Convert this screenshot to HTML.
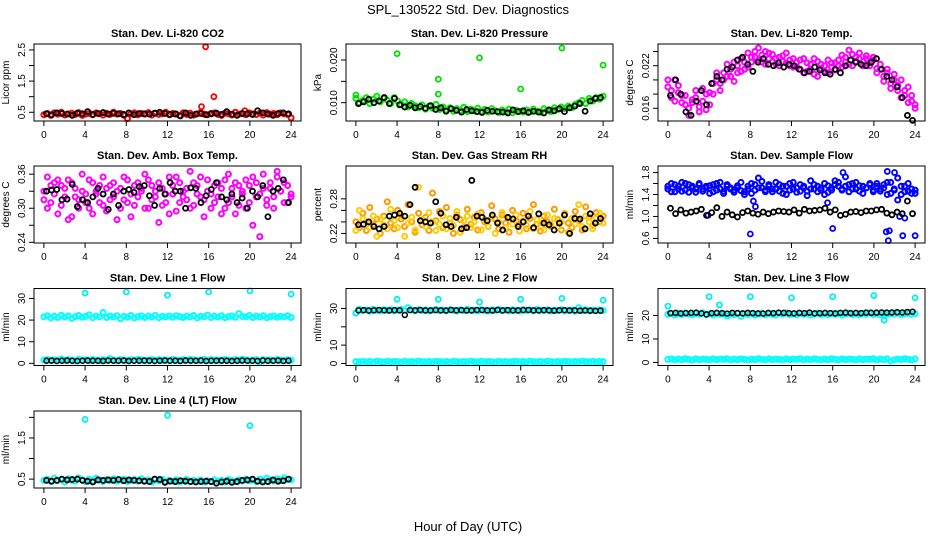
<!DOCTYPE html>
<html><head><meta charset="utf-8">
<style>
html,body{margin:0;padding:0;background:#fff;}
svg{display:block;font-family:"Liberation Sans",sans-serif;}
</style></head>
<body>
<svg id="chart" width="936" height="540" viewBox="0 0 936 540" xmlns="http://www.w3.org/2000/svg">
<text x="468" y="14" text-anchor="middle" font-size="13">SPL_130522  Std. Dev. Diagnostics</text>
<text x="468" y="531" text-anchor="middle" font-size="13">Hour of Day (UTC)</text>
</svg>
<script>
// ---- data ----
const xTicks = [0,4,8,12,16,20,24];
const panelTitles = ["Stan. Dev. Li-820 CO2","Stan. Dev. Li-820 Pressure","Stan. Dev. Li-820 Temp.","Stan. Dev. Amb. Box Temp.","Stan. Dev. Gas Stream RH","Stan. Dev. Sample Flow","Stan. Dev. Line 1 Flow","Stan. Dev. Line 2 Flow","Stan. Dev. Line 3 Flow","Stan. Dev. Line 4 (LT) Flow"];
const yTitles = ["Licor ppm","kPa","degrees C","degrees C","percent","ml/min","ml/min","ml/min","ml/min","ml/min"];
const yLo = [0.22,0.00571,0.01421,0.2388,0.2034,0.5165,-1,-1.1,-1.3,0.284];
const yHi = [2.69,0.02375,0.02506,0.3744,0.337,1.919,34.6,40.9,31.5,2.155];
const yTickVals = [[0.5,1,1.5,2,2.5],[0.010,0.015,0.020],[0.016,0.018,0.020,0.022,0.024],[0.24,0.27,0.30,0.33,0.36],[0.22,0.24,0.26,0.28],[0.6,0.8,1.0,1.2,1.4,1.6,1.8],[0,10,20,30],[0,10,20,30],[0,10,20],[0.5,1.0,1.5,2.0]];
const yTickLabels = [["0.5","","1.5","","2.5"],["0.010","","0.020"],["0.016","","","0.022",""],["0.24","","0.30","","0.36"],["0.22","","","0.28"],["0.6","","1.0","","1.4","","1.8"],["0","10","20","30"],["0","10","","30"],["0","10","20"],["0.5","","1.5",""]];

const co2Red = [0.42,0.46,0.40,0.48,0.44,0.50,0.41,0.45,0.47,0.43,0.49,0.40,0.44,0.46,0.42,0.48,0.45,0.41,0.47,0.43,0.50,0.44,0.46,0.40,0.30,0.45,0.48,0.42,0.46,0.44,0.49,0.41,0.47,0.43,0.45,0.50,0.42,0.46,0.44,0.40,0.48,0.43,0.47,0.41,0.45,0.49,0.44,0.42,0.46,0.48,0.43,0.40,0.47,0.45,0.41,0.50,0.44,0.46,0.42,0.48,0.45,0.43,0.47,0.41,0.49,0.44,0.46,0.42,0.48,0.45,0.43,0.32];
const co2Black = [0.45,0.42,0.48,0.46,0.44,0.40,0.47,0.45,0.52,0.43,0.46,0.49,0.44,0.47,0.45,0.43,0.48,0.42,0.46,0.45,0.44,0.47,0.50,0.46,0.43,0.45,0.38,0.48,0.40,0.44,0.46,0.42,0.45,0.47,0.43,0.52,0.44,0.40,0.46,0.45,0.43,0.55,0.48,0.44,0.40,0.46,0.48,0.45];
const co2OutHours = [15.7,16.5,15.3,19.5];
const co2OutVals = [2.6,1.0,0.68,0.55];

const presGreen = [0.0110,0.0100,0.0105,0.0112,0.0098,0.0108,0.0115,0.0102,0.0110,0.0106,0.0098,0.0112,0.0104,0.0096,0.0102,0.0090,0.0098,0.0093,0.0088,0.0095,0.0085,0.0092,0.0087,0.0096,0.0084,0.0090,0.0083,0.0088,0.0080,0.0086,0.0082,0.0089,0.0079,0.0085,0.0081,0.0087,0.0080,0.0084,0.0078,0.0086,0.0081,0.0077,0.0083,0.0079,0.0085,0.0076,0.0082,0.0080,0.0078,0.0083,0.0079,0.0085,0.0080,0.0078,0.0086,0.0082,0.0079,0.0088,0.0084,0.0090,0.0086,0.0092,0.0088,0.0096,0.0100,0.0105,0.0098,0.0110,0.0104,0.0112,0.0108,0.0115];
const presBlack = [0.0098,0.0102,0.0108,0.0100,0.0104,0.0112,0.0098,0.0110,0.0095,0.0090,0.0094,0.0088,0.0091,0.0087,0.0093,0.0084,0.0088,0.0080,0.0086,0.0082,0.0078,0.0084,0.0081,0.0079,0.0077,0.0082,0.0080,0.0079,0.0078,0.0076,0.0083,0.0079,0.0081,0.0077,0.0080,0.0078,0.0076,0.0083,0.0081,0.0086,0.0079,0.0088,0.0092,0.0098,0.0080,0.0104,0.0110,0.0112];
const presOutHours = [4,8,8,12,16,20,24,0];
const presOutVals = [0.0215,0.0155,0.0120,0.0205,0.0132,0.0228,0.0188,0.0118];

const tempMag1 = [0.0190,0.0175,0.0200,0.0182,0.0168,0.0178,0.0160,0.0172,0.0185,0.0155,0.0170,0.0180,0.0165,0.0195,0.0200,0.0185,0.0210,0.0205,0.0215,0.0198,0.0220,0.0212,0.0225,0.0218,0.0232,0.0240,0.0228,0.0235,0.0222,0.0238,0.0226,0.0230,0.0220,0.0234,0.0224,0.0228,0.0218,0.0225,0.0215,0.0230,0.0212,0.0222,0.0208,0.0226,0.0216,0.0220,0.0210,0.0224,0.0214,0.0228,0.0218,0.0232,0.0222,0.0236,0.0226,0.0230,0.0220,0.0234,0.0224,0.0228,0.0216,0.0222,0.0205,0.0215,0.0195,0.0208,0.0185,0.0200,0.0178,0.0190,0.0170,0.0160];
const tempMag2 = [0.0200,0.0185,0.0170,0.0192,0.0178,0.0165,0.0150,0.0168,0.0175,0.0162,0.0188,0.0158,0.0182,0.0180,0.0210,0.0195,0.0200,0.0222,0.0205,0.0225,0.0210,0.0230,0.0215,0.0238,0.0225,0.0232,0.0245,0.0225,0.0240,0.0230,0.0236,0.0222,0.0232,0.0226,0.0238,0.0220,0.0230,0.0218,0.0228,0.0210,0.0224,0.0215,0.0230,0.0205,0.0222,0.0212,0.0228,0.0218,0.0224,0.0220,0.0235,0.0225,0.0242,0.0220,0.0232,0.0238,0.0226,0.0230,0.0220,0.0232,0.0210,0.0215,0.0198,0.0210,0.0188,0.0200,0.0192,0.0175,0.0185,0.0168,0.0178,0.0165];
const tempBlack = [0.0178,0.0200,0.0180,0.0155,0.0150,0.0170,0.0185,0.0165,0.0195,0.0205,0.0200,0.0215,0.0218,0.0228,0.0232,0.0222,0.0212,0.0225,0.0230,0.0222,0.0220,0.0224,0.0218,0.0222,0.0220,0.0215,0.0210,0.0212,0.0218,0.0214,0.0210,0.0208,0.0215,0.0210,0.0220,0.0228,0.0225,0.0222,0.0220,0.0225,0.0230,0.0215,0.0205,0.0200,0.0190,0.0175,0.0150,0.0143];

const ambMag1 = [0.330,0.355,0.310,0.345,0.290,0.340,0.320,0.350,0.285,0.335,0.315,0.360,0.325,0.300,0.345,0.330,0.310,0.355,0.295,0.340,0.320,0.280,0.335,0.315,0.350,0.325,0.305,0.345,0.330,0.360,0.300,0.340,0.320,0.275,0.335,0.310,0.355,0.325,0.295,0.345,0.330,0.315,0.365,0.305,0.340,0.320,0.285,0.350,0.325,0.310,0.345,0.335,0.300,0.360,0.320,0.290,0.340,0.330,0.350,0.310,0.270,0.345,0.325,0.360,0.315,0.335,0.300,0.355,0.330,0.345,0.310,0.325];
const ambMag2 = [0.315,0.300,0.340,0.325,0.350,0.305,0.335,0.280,0.345,0.320,0.300,0.330,0.310,0.350,0.290,0.325,0.340,0.305,0.335,0.315,0.345,0.330,0.300,0.355,0.310,0.285,0.340,0.320,0.335,0.300,0.350,0.315,0.330,0.345,0.305,0.325,0.290,0.340,0.355,0.310,0.320,0.335,0.300,0.345,0.325,0.355,0.315,0.330,0.300,0.340,0.320,0.290,0.350,0.310,0.335,0.345,0.305,0.325,0.300,0.340,0.355,0.320,0.250,0.335,0.305,0.345,0.320,0.365,0.330,0.310,0.340,0.320];
const ambBlack = [0.330,0.332,0.333,0.315,0.316,0.342,0.303,0.315,0.310,0.320,0.335,0.325,0.298,0.325,0.305,0.330,0.333,0.328,0.338,0.340,0.322,0.305,0.335,0.325,0.345,0.330,0.330,0.300,0.336,0.335,0.310,0.322,0.333,0.345,0.320,0.315,0.325,0.310,0.318,0.300,0.330,0.320,0.340,0.285,0.330,0.335,0.350,0.310];

const rhOrange1 = [0.240,0.230,0.255,0.225,0.265,0.235,0.245,0.220,0.250,0.275,0.238,0.228,0.260,0.245,0.232,0.270,0.240,0.222,0.255,0.235,0.248,0.225,0.290,0.242,0.258,0.230,0.265,0.238,0.220,0.252,0.244,0.230,0.262,0.236,0.248,0.226,0.256,0.240,0.232,0.268,0.245,0.228,0.252,0.238,0.222,0.260,0.242,0.235,0.255,0.228,0.246,0.270,0.236,0.224,0.250,0.240,0.232,0.262,0.244,0.226,0.254,0.238,0.230,0.258,0.242,0.226,0.266,0.248,0.234,0.256,0.240,0.250];
const rhOrange2 = [0.225,0.260,0.245,0.240,0.230,0.250,0.215,0.245,0.235,0.228,0.262,0.242,0.230,0.250,0.215,0.238,0.248,0.226,0.300,0.244,0.232,0.256,0.240,0.225,0.236,0.250,0.228,0.246,0.234,0.258,0.222,0.242,0.250,0.230,0.240,0.254,0.226,0.244,0.232,0.248,0.220,0.240,0.256,0.230,0.246,0.236,0.252,0.224,0.242,0.234,0.258,0.228,0.244,0.238,0.226,0.252,0.236,0.246,0.230,0.240,0.255,0.222,0.246,0.236,0.270,0.232,0.250,0.240,0.228,0.246,0.255,0.238];
const rhBlack = [0.235,0.236,0.240,0.232,0.228,0.232,0.250,0.252,0.255,0.250,0.270,0.300,0.242,0.240,0.238,0.275,0.255,0.235,0.232,0.248,0.228,0.230,0.312,0.250,0.248,0.242,0.252,0.238,0.226,0.248,0.245,0.232,0.240,0.250,0.230,0.254,0.238,0.235,0.226,0.238,0.252,0.220,0.246,0.245,0.228,0.254,0.238,0.246];

const flowBlue1 = [1.50,1.60,1.45,1.55,1.62,1.48,1.58,1.52,1.44,1.60,1.50,1.55,1.42,1.58,1.48,1.62,1.46,1.55,1.50,1.44,1.52,1.47,1.40,1.55,1.60,1.48,1.70,1.52,1.45,1.58,1.50,1.62,1.46,1.55,1.40,1.60,1.50,1.44,1.58,1.52,1.46,1.65,1.50,1.55,1.48,1.60,1.44,1.52,1.65,1.55,1.48,1.72,1.58,1.50,1.62,1.46,1.55,1.52,1.60,1.45,1.55,1.50,1.58,1.40,1.62,1.48,1.30,1.55,1.45,1.60,1.50,1.42];
const flowBlue2 = [1.55,1.45,1.58,1.50,1.46,1.60,1.44,1.55,1.50,1.58,1.46,1.52,1.56,1.45,1.60,1.50,1.42,1.58,1.52,1.48,1.56,1.62,1.45,1.50,1.42,1.58,1.52,1.64,1.48,1.55,1.45,1.50,1.58,1.42,1.55,1.48,1.62,1.52,1.46,1.55,1.38,1.50,1.58,1.45,1.52,1.40,1.56,1.48,1.58,1.62,1.50,1.55,1.45,1.60,1.50,1.56,1.42,1.52,1.58,1.48,1.60,1.46,1.52,1.62,1.42,1.50,1.70,1.40,1.55,1.46,1.42,1.48];
const flowBlack = [1.15,1.05,1.12,1.06,1.08,1.10,1.13,1.02,1.07,1.16,1.00,1.08,1.03,0.99,1.07,1.10,1.06,1.04,1.08,1.05,1.08,1.10,1.09,1.08,1.12,1.06,1.13,1.10,1.11,1.12,1.15,1.08,1.12,1.02,1.04,1.08,1.09,1.07,1.10,1.10,1.12,1.13,1.06,1.03,1.08,1.05,1.28,1.05];
const flowOutHours = [8,8.3,8.5,16,15.5,21.2,21.4,21.5,22.8,24,21.3,22,17,23,22.5,3.9];
const flowOutVals = [0.68,1.28,1.18,0.78,1.25,0.72,0.56,0.74,0.65,0.65,1.82,1.80,1.80,0.97,1.00,1.02];

const l1High = [21.5,22.0,21.0,21.8,21.2,22.2,21.4,21.9,20.8,21.6,22.1,21.3,21.7,22.4,21.1,21.8,21.5,23.5,21.2,21.9,21.4,22.0,20.6,21.7,21.3,22.1,21.0,21.6,21.9,21.2,21.8,21.4,22.2,21.1,21.7,21.5,21.9,21.3,22.0,21.6,21.2,21.8,21.4,22.1,21.0,21.7,21.5,22.3,21.2,21.8,21.4,22.0,21.1,21.6,21.9,21.3,23.0,21.7,21.5,22.1,21.2,21.8,21.4,22.0,21.1,21.6,21.9,21.3,21.7,21.5,22.0,21.2];
const l1Low = [1.5,1.8,1.2,1.6,1.4,2.0,1.3,1.7,1.5,1.1,1.9,1.4,1.6,1.2,1.8,1.5,1.3,1.7,1.4,2.2,1.6,1.2,1.8,1.5,1.3,1.7,1.4,1.9,1.6,1.2,1.5,1.8,1.3,1.7,1.4,1.6,1.2,1.9,1.5,1.3,1.7,1.4,1.8,1.6,1.2,1.5,1.9,1.3,1.7,1.4,1.6,1.2,1.8,1.5,1.3,1.7,1.4,1.9,1.6,1.2,1.5,1.8,0.5,1.7,1.4,1.6,1.2,1.8,1.5,1.3,1.7,1.4];
const l1Black = [1.2,1.3,1.1,1.2,1.3,1.2,1.1,1.2,1.3,1.2,1.2,1.1,1.3,1.2,1.2,1.3,1.1,1.2,1.2,1.3,1.2,1.1,1.2,1.3,1.2,1.2,1.1,1.3,1.2,1.2,1.3,1.1,1.2,1.2,1.3,1.2,1.1,1.2,1.3,1.2,1.2,1.1,1.3,1.2,1.2,1.3,1.1,1.2];
const l1OutHours = [4,8,12,16,20,24];
const l1OutVals = [32.5,33,31.5,33,33.5,32];

const l2High = [27.5,29.5,28.8,29.2,28.5,29.6,29.0,28.7,29.3,28.9,29.4,28.6,29.1,29.5,28.8,30.5,29.2,28.7,29.4,28.9,29.3,28.6,29.0,29.5,28.8,29.2,28.7,29.4,29.0,28.6,29.3,28.9,29.5,28.8,29.1,28.7,29.4,29.0,28.6,29.2,28.9,29.5,28.8,29.1,28.7,29.3,29.0,28.6,29.4,28.9,29.2,28.7,29.5,29.0,28.8,29.3,28.6,29.1,28.9,29.4,28.7,29.0,29.2,28.5,30.5,28.9,29.3,28.7,29.1,28.8,29.2,28.9];
const l2Low = [1.0,0.8,1.2,0.9,1.1,0.7,1.3,1.0,0.8,1.2,0.9,1.1,1.0,0.7,1.2,0.9,1.1,0.8,1.3,1.0,0.9,1.1,0.8,1.2,1.0,0.9,1.1,0.7,1.2,1.0,0.8,1.1,0.9,1.3,1.0,0.8,1.2,0.9,1.1,1.0,0.7,1.2,0.9,1.1,0.8,1.0,1.2,0.9,1.1,0.8,1.3,1.0,0.9,1.1,0.7,1.2,1.0,0.8,1.1,0.9,1.2,1.0,0.8,1.1,0.9,1.3,1.0,0.8,1.2,0.9,1.1,1.0];
const l2Black = [29.0,29.1,28.9,29.0,29.2,29.0,28.9,29.1,29.0,26.5,29.1,29.0,29.2,28.9,29.0,29.1,29.0,28.9,29.2,29.0,29.1,28.9,29.0,29.2,29.1,29.0,28.9,29.2,29.0,29.1,28.9,29.0,29.1,29.2,29.0,28.9,29.1,29.0,28.8,29.0,29.1,28.9,29.0,28.8,28.9,28.8,28.7,28.8];
const l2OutHours = [4,8,12,16,20,24,0];
const l2OutVals = [35,35,33.5,35,35.5,34.5,27.5];

const l3High = [20.5,21.0,20.2,20.8,20.4,21.1,20.6,20.3,20.9,20.5,21.2,20.4,20.7,20.2,20.9,20.5,20.8,19.8,20.6,20.3,21.0,19.6,20.7,20.4,20.9,20.2,20.6,21.0,20.3,20.8,20.5,20.2,20.9,20.6,21.1,20.4,20.7,20.3,20.9,20.5,20.8,20.2,20.6,21.0,20.4,20.7,20.3,20.9,20.5,20.8,20.2,20.6,21.0,20.4,20.7,20.3,20.9,20.5,21.2,20.4,20.7,20.3,20.9,20.5,20.8,20.6,21.0,20.4,20.7,20.9,20.5,20.8];
const l3Low = [1.3,1.5,1.1,1.4,1.2,1.6,1.3,1.0,1.5,1.2,1.4,1.3,1.1,1.5,1.2,1.4,1.3,1.6,1.1,1.4,1.2,1.5,1.3,1.1,1.4,1.2,1.6,1.3,1.1,1.5,1.2,1.4,1.3,1.1,1.5,1.2,1.4,1.3,1.6,1.1,1.4,1.2,1.5,1.3,1.1,1.4,1.2,1.6,1.3,1.1,1.5,1.2,1.4,1.3,1.1,1.5,1.2,1.4,1.3,1.6,1.1,1.4,1.2,1.5,0.6,1.1,1.4,1.2,1.6,1.3,1.1,1.5];
const l3Black = [21.0,21.1,20.9,21.0,21.1,21.2,20.9,20.5,21.0,21.1,21.0,20.8,21.1,21.0,20.9,21.1,21.0,20.9,20.8,21.1,21.0,21.2,21.1,21.0,20.9,21.1,21.0,21.2,20.9,21.0,21.1,21.0,20.9,21.1,21.2,21.0,21.1,21.0,21.2,21.1,21.2,21.3,21.2,21.3,21.4,21.3,21.5,21.6];
const l3OutHours = [0,4,5,8,12,16,20,24,21];
const l3OutVals = [24,28,24.5,28,27.5,28,28.5,27.5,18];

const l4Cyan = [0.47,0.50,0.44,0.52,0.46,0.49,0.43,0.51,0.47,0.45,0.53,0.48,0.44,0.50,0.46,0.52,0.48,0.44,0.49,0.47,0.51,0.45,0.48,0.50,0.44,0.47,0.49,0.45,0.51,0.46,0.48,0.43,0.50,0.46,0.49,0.44,0.47,0.45,0.48,0.43,0.46,0.49,0.44,0.47,0.45,0.48,0.43,0.46,0.44,0.48,0.45,0.47,0.43,0.49,0.46,0.44,0.48,0.45,0.50,0.46,0.48,0.44,0.50,0.46,0.52,0.48,0.45,0.51,0.47,0.53,0.49,0.48];
const l4Black = [0.47,0.45,0.47,0.50,0.48,0.49,0.50,0.47,0.45,0.43,0.48,0.47,0.48,0.47,0.49,0.46,0.48,0.47,0.46,0.45,0.44,0.50,0.49,0.42,0.45,0.44,0.46,0.45,0.44,0.43,0.44,0.45,0.44,0.40,0.43,0.45,0.42,0.44,0.47,0.48,0.50,0.45,0.43,0.44,0.48,0.45,0.46,0.50];
const l4OutHours = [4,12,20];
const l4OutVals = [1.95,2.05,1.80];

// ---- layout ----
const svg = document.getElementById('chart');
const NS = 'http://www.w3.org/2000/svg';
const colLeft = [34,346,658], boxW = 267, boxH = 77, rowTop = [44,166,288.5,411];
const XLO = -0.96, XHI = 24.96;
function mk(tag, attrs, parent){ const e=document.createElementNS(NS,tag); for(const k in attrs) e.setAttribute(k,attrs[k]); (parent||svg).appendChild(e); return e; }
function geo(p){ const c=p%3, r=Math.floor(p/3); return {x:colLeft[c], y:rowTop[r]}; }
function sx(p,h){ const g=geo(p); return g.x + (h-XLO)/(XHI-XLO)*boxW; }
function sy(p,v){ const g=geo(p); return g.y + boxH - (v-yLo[p])/(yHi[p]-yLo[p])*boxH; }

const groups = [];
for(let p=0;p<10;p++){
  const g=geo(p);
  const grp = mk('g',{});
  
  
  groups.push(grp);
  const t = mk('text',{x:g.x+boxW/2, y:g.y-7, 'text-anchor':'middle','font-size':'11','font-weight':'bold'},grp);
  t.textContent = panelTitles[p];
  
  
  const yt = mk('text',{x:0,y:0,transform:`translate(${g.x-25},${g.y+boxH/2}) rotate(-90)`,'text-anchor':'middle','font-size':'10'},grp);
  yt.textContent = yTitles[p];
  
  
  const xa = mk('g',{},grp);
  
  
  mk('line',{x1:sx(p,xTicks[0]),x2:sx(p,xTicks[xTicks.length-1]),y1:g.y+boxH,y2:g.y+boxH,stroke:'#000','stroke-width':1},xa);
  xTicks.forEach(h=>{
    mk('line',{x1:sx(p,h),x2:sx(p,h),y1:g.y+boxH,y2:g.y+boxH+5,stroke:'#000','stroke-width':1},xa);
    const tl = mk('text',{x:sx(p,h),y:g.y+boxH+17,'text-anchor':'middle','font-size':'10'},xa);
    tl.textContent = h;
    
    
  });
  const ya = mk('g',{},grp);
  
  
  yTickVals[p].forEach((v,i)=>{
    const y = sy(p,v);
    mk('line',{x1:g.x-5,x2:g.x,y1:y,y2:y,stroke:'#000','stroke-width':1},ya);
    if(yTickLabels[p][i]){
      const tl = mk('text',{x:0,y:0,transform:`translate(${g.x-9},${y}) rotate(-90)`,'text-anchor':'middle','font-size':'10'},ya);
      tl.textContent = yTickLabels[p][i];
      
      
    }
  });
  const first=yTickVals[p][0], last=yTickVals[p][yTickVals[p].length-1];
  mk('line',{x1:g.x,x2:g.x,y1:sy(p,first),y2:sy(p,last),stroke:'#000','stroke-width':1},ya);
}

function series(p, vals, color, mode, name, sw){
  const grp = mk('g',{fill:'none',stroke:color,'stroke-width':sw||2},groups[p]);
  
  
  const n = vals.length;
  vals.forEach((v,i)=>{
    const h = mode==='mid' ? (i+0.5)*24/n : i*24/(n-1);
    mk('circle',{cx:sx(p,h), cy:sy(p,v), r:2.5},grp);
  });
}
function outliers(p, hours, vals, color, name){
  const grp = mk('g',{fill:'none',stroke:color,'stroke-width':1.8},groups[p]);
  
  
  hours.forEach((h,i)=>{ mk('circle',{cx:sx(p,h), cy:sy(p,vals[i]), r:2.5},grp); });
}

series(0, co2Red, '#ff0000','even','co2-series');
outliers(0, co2OutHours, co2OutVals, '#ff0000','co2-outliers');
series(0, co2Black, '#000','mid','co2-hourly-series',1.8);

series(1, presGreen, '#00ee00','even','pressure-series');
outliers(1, presOutHours, presOutVals, '#00dd00','pressure-outliers');
series(1, presBlack, '#000','mid','pressure-hourly-series',1.8);

series(2, tempMag1, '#ff00ff','even','temp-series-a');
series(2, tempMag2, '#ff00ff','even','temp-series-b');
series(2, tempBlack, '#000','mid','temp-hourly-series',1.8);

series(3, ambMag1, '#ff00ff','even','amb-temp-series-a');
series(3, ambMag2, '#ff00ff','even','amb-temp-series-b');
series(3, ambBlack, '#000','mid','amb-temp-hourly-series',1.8);

series(4, rhOrange1, '#ff9900','even','rh-series-a');
series(4, rhOrange2, '#ffcc00','even','rh-series-b');
series(4, rhBlack, '#000','mid','rh-hourly-series',1.8);

series(5, flowBlue1, '#0000ff','even','sample-flow-series-a');
series(5, flowBlue2, '#0000ff','even','sample-flow-series-b');
outliers(5, flowOutHours, flowOutVals, '#0000ff','sample-flow-outliers');
series(5, flowBlack, '#000','mid','sample-flow-hourly-series',1.8);

series(6, l1High, '#00ffff','even','line1-high-series');
series(6, l1Low, '#00ffff','even','line1-low-series');
outliers(6, l1OutHours, l1OutVals, '#00eeee','line1-outliers');
series(6, l1Black, '#000','mid','line1-hourly-series',1.5);

series(7, l2High, '#00ffff','even','line2-high-series');
series(7, l2Low, '#00ffff','even','line2-low-series');
outliers(7, l2OutHours, l2OutVals, '#00eeee','line2-outliers');
series(7, l2Black, '#000','mid','line2-hourly-series',1.5);

series(8, l3High, '#00ffff','even','line3-high-series');
series(8, l3Low, '#00ffff','even','line3-low-series');
outliers(8, l3OutHours, l3OutVals, '#00eeee','line3-outliers');
series(8, l3Black, '#000','mid','line3-hourly-series',1.5);

series(9, l4Cyan, '#00ffff','even','line4-series');
outliers(9, l4OutHours, l4OutVals, '#00eeee','line4-outliers');
series(9, l4Black, '#000','mid','line4-hourly-series',1.8);

for(let p=0;p<10;p++){
  const g=geo(p);
  const b = mk('rect',{x:g.x,y:g.y,width:boxW,height:boxH,fill:'none',stroke:'#000','stroke-width':1},groups[p]);
  
  
}
</script>
</body></html>
